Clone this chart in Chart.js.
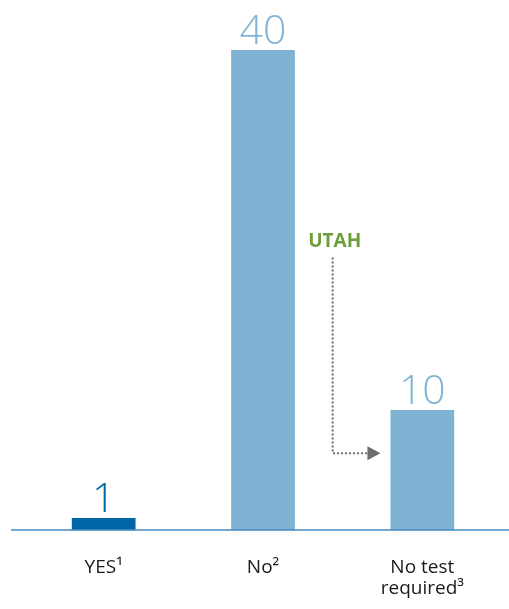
<!DOCTYPE html>
<html>
<head>
<meta charset="utf-8">
<script src="https://cdn.jsdelivr.net/npm/chart.js@4.4.1/dist/chart.umd.min.js"></script>
<style>
  html, body { margin: 0; padding: 0; background: #ffffff; }
  #wrap { width: 509px; height: 609px; position: relative; }
</style>
</head>
<body>
<div id="wrap"><canvas id="barChart"></canvas></div>
<script>
const categories = [['YES\u00b9'], ['No\u00b2'], ['No test', 'required\u00b3']];
const counts = [1, 40, 10];
const barColors = ['#0065a6', '#80b3d3', '#80b3d3'];
const noteText = 'UTAH';

// value numbers above each bar
const valueLabels = {
    id: 'valueLabels',
    afterDatasetsDraw(chart) {
        const ctx = chart.ctx;
        const meta = chart.getDatasetMeta(0);
        ctx.save();
        ctx.font = '300 41px "Open Sans"';
        ctx.textAlign = 'center';
        ctx.textBaseline = 'alphabetic';
        meta.data.forEach((bar, i) => {
            ctx.fillStyle = barColors[i];
            ctx.fillText(String(counts[i]), bar.x, bar.y - 6);
        });
        ctx.restore();
    }
};

// long baseline under the bars + category names below it
const baseLine = {
    id: 'baseLine',
    afterDatasetsDraw(chart) {
        const ctx = chart.ctx;
        const xs = chart.scales.x;
        const y = chart.scales.y.getPixelForValue(0);
        ctx.save();
        ctx.strokeStyle = '#3f8cc3';
        ctx.lineWidth = 1.5;
        ctx.beginPath();
        ctx.moveTo(11, y);
        ctx.lineTo(chart.width, y);
        ctx.stroke();

        ctx.fillStyle = '#1a1a1a';
        ctx.font = '19px "Open Sans"';
        ctx.textAlign = 'center';
        ctx.textBaseline = 'alphabetic';
        categories.forEach((lines, i) => {
            const x = xs.getPixelForValue(i);
            lines.forEach((line, j) => {
                ctx.fillText(line, x, y + 43 + j * 21);
            });
        });
        ctx.restore();
    }
};

// Utah note with dotted elbow arrow to the third bar
const utahNote = {
    id: 'utahNote',
    afterDatasetsDraw(chart) {
        const ctx = chart.ctx;
        const xs = chart.scales.x;
        const ys = chart.scales.y;
        const bar3 = chart.getDatasetMeta(0).data[2];
        const lx = xs.getPixelForValue(1.5) - 10;
        const topY = ys.getPixelForValue(22.7);
        const armY = ys.getPixelForValue(6.4);
        const tipX = bar3.x - bar3.width / 2 - 10;

        ctx.save();
        ctx.fillStyle = '#6b9e3b';
        ctx.font = 'bold 19px "Open Sans"';
        ctx.textAlign = 'center';
        ctx.textBaseline = 'middle';
        ctx.fillText(noteText, lx + 2, ys.getPixelForValue(24));

        ctx.strokeStyle = '#6d6d6d';
        ctx.lineWidth = 2;
        ctx.setLineDash([2, 2]);
        ctx.beginPath();
        ctx.moveTo(lx, topY);
        ctx.lineTo(lx, armY);
        ctx.lineTo(tipX - 13, armY);
        ctx.stroke();
        ctx.setLineDash([]);

        ctx.fillStyle = '#6d6d6d';
        ctx.beginPath();
        ctx.moveTo(tipX - 13, armY - 7);
        ctx.lineTo(tipX, armY);
        ctx.lineTo(tipX - 13, armY + 7);
        ctx.closePath();
        ctx.fill();
        ctx.restore();
    }
};

new Chart(document.getElementById('barChart').getContext('2d'), {
    type: 'bar',
    data: {
        labels: categories,
        datasets: [{
            data: counts,
            backgroundColor: barColors,
            borderWidth: 0,
            categoryPercentage: 1,
            barPercentage: 0.4
        }]
    },
    options: {
        responsive: true,
        maintainAspectRatio: false,
        animation: false,
        events: [],
        layout: { padding: { top: 50, left: 24, right: 7, bottom: 79 } },
        plugins: {
            legend: { display: false },
            tooltip: { enabled: false }
        },
        scales: {
            x: { display: false },
            y: {
                display: false,
                min: 0,
                max: 40
            }
        }
    },
    plugins: [baseLine, valueLabels, utahNote]
});
</script>
</body>
</html>
